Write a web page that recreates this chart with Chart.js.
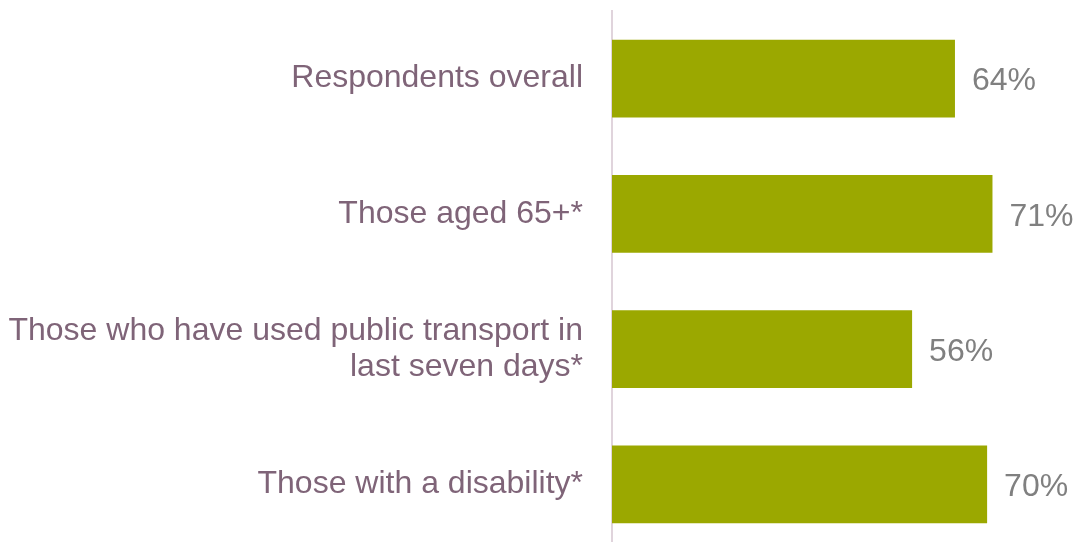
<!DOCTYPE html>
<html><head><meta charset="utf-8">
<script src="https://cdn.jsdelivr.net/npm/chart.js@4"></script>
<style>html,body{margin:0;padding:0;background:#fff;overflow:hidden}#wrap{width:1075px;height:552px}</style>
</head><body><div id="wrap"><canvas id="c"></canvas></div>
<script>
const categories = [
  "Respondents overall",
  "Those aged 65+*",
  ["Those who have used public transport in", "last seven days*"],
  "Those with a disability*"
];
const values = [64, 71, 56, 70];
const valueLabels = ["64%", "71%", "56%", "70%"];

const labelPlugin = {
  id: 'vals',
  afterDatasetsDraw(chart) {
    const ctx = chart.ctx;
    const meta = chart.getDatasetMeta(0);
    ctx.save();
    ctx.font = '32px "Liberation Sans", Arial, sans-serif';
    ctx.fillStyle = '#808080';
    ctx.textAlign = 'left';
    ctx.textBaseline = 'middle';
    meta.data.forEach((bar, i) => {
      ctx.fillText(valueLabels[i], bar.x + 17, bar.y + 3);
    });
    ctx.restore();
  }
};

new Chart(document.getElementById('c'), {
  type: 'bar',
  data: {
    labels: categories,
    datasets: [{
      data: values,
      backgroundColor: '#9BA800',
      borderWidth: 0,
      barPercentage: 0.575,
      categoryPercentage: 1
    }]
  },
  plugins: [labelPlugin],
  options: {
    indexAxis: 'y',
    responsive: true,
    maintainAspectRatio: false,
    animation: false,
    layout: { padding: { top: 11, right: 0, bottom: 0, left: 0 } },
    plugins: { legend: { display: false }, tooltip: { enabled: false } },
    scales: {
      x: { display: false, min: 0, max: 86.4 },
      y: {
        afterFit(scale) { scale.width = 612; scale.paddingTop = 0; scale.paddingBottom = 0; },
        grid: { display: false, drawTicks: false },
        border: { display: true, color: '#E0D4DC', width: 2 },
        ticks: {
          padding: 29,
          color: '#7F6478',
          font: { family: '"Liberation Sans", Arial, sans-serif', size: 32, lineHeight: 1.15 }
        }
      }
    }
  }
});
</script></body></html>
